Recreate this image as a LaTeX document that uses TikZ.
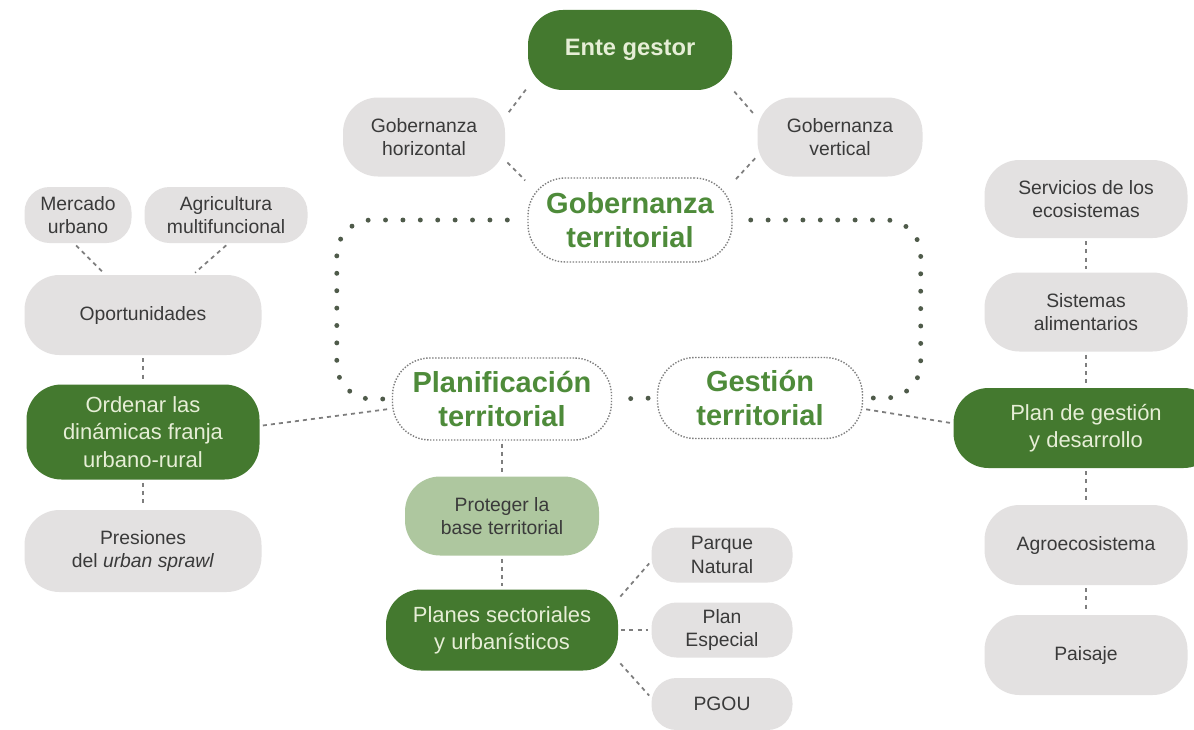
\documentclass[tikz,border=0pt]{standalone}
\usepackage{fontspec}
\setmainfont{Liberation Sans}
\usepackage{xcolor}
\usetikzlibrary{arrows.meta,positioning,calc}
\definecolor{deepgreen}{HTML}{44792F}
\definecolor{cream}{HTML}{E6EED6}
\definecolor{softgray}{HTML}{E3E1E1}
\definecolor{ink}{HTML}{3A3A3A}
\definecolor{leaf}{HTML}{4E8B3A}
\definecolor{sage}{HTML}{AEC79F}
\definecolor{linegray}{HTML}{7E7E7E}
\definecolor{dotgray}{HTML}{4F5B4A}
\tikzset{
  blk/.style={rounded corners=0.7cm, align=center, inner sep=2pt, fill=softgray, text=ink, font=\fontsize{11}{13.5}\selectfont},
  blks/.style={blk, rounded corners=0.5cm},
  blkg/.style={blk, fill=deepgreen, text=cream, font=\fontsize{12.5}{15.5}\selectfont},
  blkl/.style={blk, fill=sage},
  blkd/.style={draw=linegray, line width=0.8pt, dash pattern=on 0.8pt off 0.9pt, rounded corners=0.75cm, align=center, text=leaf, font=\fontsize{16.5}{19}\selectfont\bfseries},
  dsh/.style={draw=linegray, line width=1pt, dash pattern=on 2.3pt off 2.3pt, shorten <=0.06cm, shorten >=0.06cm},
  bigdots/.style={draw=dotgray, line width=2.8pt, line cap=round, dash pattern=on 0pt off 9.9pt, rounded corners=0.7cm},
}
\begin{document}
\begin{tikzpicture}
  \fill[white] (0,0) rectangle (23.88,-14.58);
  \useasboundingbox (0,0) rectangle (23.88,-14.58);
  % gobernanza
  \node[blkg, font=\fontsize{13.5}{15}\selectfont\bfseries, minimum width=4.08cm, minimum height=1.6cm] (ente) at (12.6,-1.0) {Ente gestor};
  \node[blk, minimum width=3.24cm, minimum height=1.58cm] (hor) at (8.48,-2.74) {Gobernanza\\horizontal};
  \node[blk, minimum width=3.3cm, minimum height=1.58cm] (vert) at (16.8,-2.74) {Gobernanza\\vertical};
  \node[blkd, minimum width=4.08cm, minimum height=1.68cm] (gob) at (12.6,-4.4) {Gobernanza\\territorial};
  \node[blkd, minimum width=4.38cm, minimum height=1.64cm] (plan) at (10.04,-7.98) {Planificación\\territorial};
  \node[blkd, minimum width=4.1cm, minimum height=1.62cm] (gest) at (15.2,-7.96) {Gestión\\territorial};
  % columna izquierda
  \node[blks, minimum width=2.14cm, minimum height=1.12cm] (merc) at (1.56,-4.3) {Mercado\\urbano};
  \node[blks, minimum width=3.26cm, minimum height=1.12cm] (agri) at (4.52,-4.3) {Agricultura\\multifuncional};
  \node[blk, minimum width=4.74cm, minimum height=1.6cm] (opor) at (2.86,-6.3) {Oportunidades};
  \node[blkg, minimum width=4.66cm, minimum height=1.9cm] (orden) at (2.86,-8.64) {Ordenar las\\dinámicas franja\\urbano-rural};
  \node[blk, minimum width=4.74cm, minimum height=1.64cm] (pres) at (2.86,-11.02) {Presiones\\del \textit{urban sprawl}};
  % planificación
  \node[blkl, minimum width=3.88cm, minimum height=1.58cm] (prot) at (10.04,-10.32) {Proteger la\\base territorial};
  \node[blkg, minimum width=4.64cm, minimum height=1.62cm] (planes) at (10.04,-12.6) {Planes sectoriales\\y urbanísticos};
  \node[blks, minimum width=2.82cm, minimum height=1.1cm] (parque) at (14.44,-11.1) {Parque\\Natural};
  \node[blks, minimum width=2.82cm, minimum height=1.1cm] (esp) at (14.44,-12.6) {Plan\\Especial};
  \node[blks, minimum width=2.82cm, minimum height=1.04cm] (pgou) at (14.44,-14.08) {PGOU};
  % columna derecha
  \node[blk, minimum width=4.06cm, minimum height=1.56cm] (serv) at (21.72,-3.98) {Servicios de los\\ecosistemas};
  \node[blk, minimum width=4.06cm, minimum height=1.58cm] (sist) at (21.72,-6.24) {Sistemas\\alimentarios};
  \node[blkg, minimum width=5.3cm, minimum height=1.6cm] (plang) at (21.72,-8.56) {Plan de gestión\\y desarrollo};
  \node[blk, minimum width=4.06cm, minimum height=1.6cm] (agro) at (21.72,-10.9) {Agroecosistema};
  \node[blk, minimum width=4.06cm, minimum height=1.6cm] (pais) at (21.72,-13.1) {Paisaje};
  % conectores
  \draw[dsh] (ente.200) -- (hor.14);
  \draw[dsh] (hor.-16) -- (gob.160);
  \draw[dsh] (ente.-21) -- (vert.167);
  \draw[dsh] (vert.193) -- (gob.20);
  \draw[dsh] (merc.-98) -- (opor.133);
  \draw[dsh] (agri.-85) -- (opor.39);
  \draw[dsh] (opor.south) -- (orden.north);
  \draw[dsh] (orden.south) -- (pres.north);
  \draw[dsh] (orden.3) -- (plan.185);
  \draw[dsh] (plan.south) -- (prot.north);
  \draw[dsh] (prot.south) -- (planes.north);
  \draw[dsh] (planes.15) -- (parque.185);
  \draw[dsh] (planes.east) -- (esp.west);
  \draw[dsh] (planes.-15) -- (pgou.175);
  \draw[dsh] (gest.-6) -- (plang.178);
  \draw[dsh] (serv.south) -- (sist.north);
  \draw[dsh] (sist.south) -- (plang.north);
  \draw[dsh] (plang.south) -- (agro.north);
  \draw[dsh] (agro.south) -- (pais.north);
  % puntos gruesos
  \draw[bigdots, shorten <=0.4cm] (gob.west) -| ([xshift=-1.1cm]plan.west) -- (plan.west);
  \draw[bigdots, shorten <=0.36cm] (gob.east) -| ([xshift=1.15cm]gest.east) -- (gest.east);
  \draw[bigdots, shorten <=0.37cm, shorten >=0.1cm] (plan.east) -- (gest.west);
\end{tikzpicture}
\end{document}
